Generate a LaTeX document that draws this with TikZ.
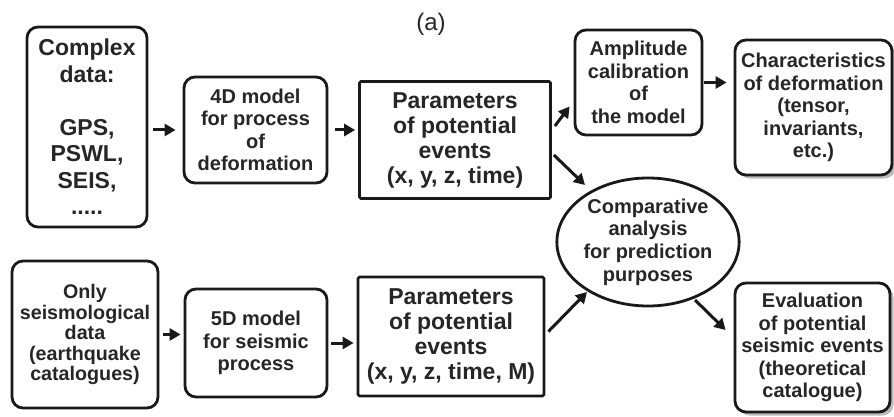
\documentclass[tikz,border=0pt]{standalone}
\usepackage{fontspec}
\setmainfont{Liberation Sans}
\usetikzlibrary{arrows.meta,shapes.geometric,shadows}
\tikzset{
  box/.style={draw=black!90, fill=white, line width=2.8pt, rounded corners=11pt, align=center,
    inner sep=0pt, font=\bfseries\fontsize{20}{22.5}\selectfont, text=black!85},
  sharpbox/.style={box, rounded corners=1.5pt, font=\bfseries\fontsize{23}{25}\selectfont},
  shbox/.style={box, drop shadow={shadow xshift=3.5pt, shadow yshift=-3.5pt, fill=black!45, opacity=0.6}},
  arr/.style={draw=black!90, line width=3pt, -{Triangle[length=11pt,width=12pt]}},
}
\begin{document}
\begin{tikzpicture}[x=1pt,y=-1pt]
\useasboundingbox (0,0) rectangle (894,417);
\node[font=\fontsize{24}{26}\selectfont, text=black!85] (title) at (431,24) {(a)};
% top row
\node[box, minimum width=120pt, minimum height=200pt, font=\bfseries\fontsize{23}{26.5}\selectfont] (cd) at (87,127)
  {Complex\\ data:\\[26.5pt] GPS,\\ PSWL,\\ SEIS,\\ .....};
\node[box, minimum width=143pt, minimum height=106pt] (m4) at (255.5,130)
  {4D model\\ for process\\ of\\ deformation};
\node[sharpbox, minimum width=191pt, minimum height=117pt] (p1) at (455,140)
  {Parameters\\ of potential\\ events\\ (x, y, z, time)};
\node[box, minimum width=127pt, minimum height=105pt] (amp) at (638.5,82.5)
  {Amplitude\\ calibration\\ of\\ the model};
\node[shbox, minimum width=157pt, minimum height=135pt] (ch) at (813.5,107.5)
  {Characteristics\\ of deformation\\ (tensor,\\ invariants,\\ etc.)};
\node[draw=black!90, fill=white, line width=2.8pt, ellipse, minimum width=173pt, minimum height=128pt,
  inner sep=0pt, align=center, font=\bfseries\fontsize{20}{22.7}\selectfont, text=black!85] (ell) at (648,242)
  {Comparative\\ analysis\\ for prediction\\ purposes};
% bottom row
\node[box, minimum width=146pt, minimum height=147pt, font=\bfseries\fontsize{19.7}{20.5}\selectfont] (only) at (85,334.5)
  {Only\\ seismological\\ data\\ (earthquake\\ catalogues)};
\node[box, minimum width=142pt, minimum height=108pt] (m5) at (256,343)
  {5D model\\ for seismic\\ process};
\node[sharpbox, minimum width=186pt, minimum height=119pt] (p2) at (451,336.5)
  {Parameters\\ of potential\\ events\\ (x, y, z, time, M)};
\node[shbox, minimum width=155pt, minimum height=129pt] (ev) at (812.5,347.5)
  {Evaluation\\ of potential\\ seismic events\\ (theoretical\\ catalogue)};
% connectors
\draw[arr, shorten <=5pt, shorten >=7pt] (cd.east |- m4.west) -- (m4.west);
\draw[arr, shorten <=7pt, shorten >=3pt] (m4.east) -- (m4.east -| p1.west);
\draw[arr] ([xshift=3pt,yshift=14pt]p1.east) -- ([xshift=-4pt,yshift=-24pt]amp.west);
\draw[arr, shorten <=1pt, shorten >=7pt] (amp.east) -- (amp.east -| ch.west);
\draw[arr] ([xshift=2pt,yshift=-15pt]p1.east) -- ([xshift=-63pt,yshift=57pt]ell.center);
\draw[arr, shorten <=4pt, shorten >=3pt] (only.east) -- (only.east -| m5.west);
\draw[arr, shorten <=3pt, shorten >=3pt] (m5.east) -- (m5.east -| p2.west);
\draw[arr] ([xshift=3pt,yshift=5pt]p2.east) -- ([xshift=-61pt,yshift=-50pt]ell.center);
\draw[arr] ([xshift=47pt,yshift=-58pt]ell.center) -- ([xshift=-8pt,yshift=17.5pt]ev.west);
\end{tikzpicture}
\end{document}
